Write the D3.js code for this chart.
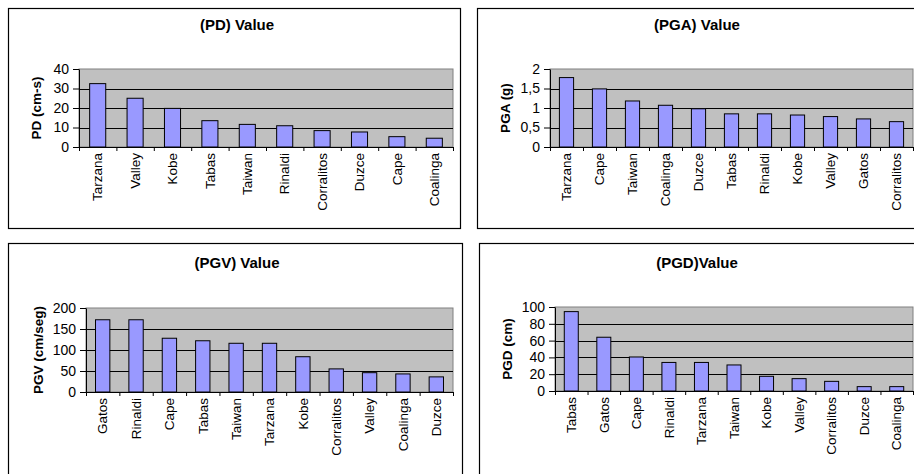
<!DOCTYPE html>
<html>
<head>
<meta charset="utf-8">
<script src="https://cdn.jsdelivr.net/npm/d3@7"></script>
<style>
  body { margin: 0; background: #fff; }
  text { font-family: "Liberation Sans", Arial, sans-serif; fill: #000; }
</style>
</head>
<body>
<script>
// --- data ---
var pdCategories = ['Tarzana', 'Valley', 'Kobe', 'Tabas', 'Taiwan', 'Rinaldi', 'Corralitos', 'Duzce', 'Cape', 'Coalinga'];
var pdValues = [32.5, 25, 19.8, 13.5, 11.6, 10.9, 8.4, 7.7, 5.3, 4.5];
var pdTicks = [0, 10, 20, 30, 40];

var pgaCategories = ['Tarzana', 'Cape', 'Taiwan', 'Coalinga', 'Duzce', 'Tabas', 'Rinaldi', 'Kobe', 'Valley', 'Gatos', 'Corralitos'];
var pgaValues = [1.78, 1.49, 1.18, 1.07, 0.98, 0.85, 0.85, 0.82, 0.78, 0.72, 0.65];
var pgaTicks = [0, 0.5, 1, 1.5, 2];

var pgvCategories = ['Gatos', 'Rinaldi', 'Cape', 'Tabas', 'Taiwan', 'Tarzana', 'Kobe', 'Corralitos', 'Valley', 'Coalinga', 'Duzce'];
var pgvValues = [172, 172, 128, 122, 116, 116, 84, 55, 46, 43, 36];
var pgvTicks = [0, 50, 100, 150, 200];

var pgdCategories = ['Tabas', 'Gatos', 'Cape', 'Rinaldi', 'Tarzana', 'Taiwan', 'Kobe', 'Valley', 'Corralitos', 'Duzce', 'Coalinga'];
var pgdValues = [94.5, 64, 40.5, 34, 34, 31, 17.5, 14.7, 11.5, 5.2, 5.2];
var pgdTicks = [0, 20, 40, 60, 80, 100];

// decimal comma like the original sheet
var commaFormat = function(d) { return String(d).replace('.', ','); };

var svg = d3.select('body').append('svg')
  .attr('width', 914)
  .attr('height', 474);

function drawPanel(cfg) {
  var g = svg.append('g');
  var plot = cfg.plot;

  // outer chart frame
  g.append('rect')
    .attr('x', cfg.frame[0] + 0.5).attr('y', cfg.frame[1] + 0.5)
    .attr('width', cfg.frame[2]).attr('height', cfg.frame[3])
    .attr('fill', '#fff')
    .attr('stroke', '#000')
    .attr('stroke-width', 1.2);

  var x = d3.scaleBand()
    .domain(cfg.categories)
    .range([plot.left, plot.right])
    .paddingInner(0.57)
    .paddingOuter(0.285);

  var y = d3.scaleLinear()
    .domain([0, d3.max(cfg.ticks)])
    .range([plot.bottom, plot.top]);

  // grey plot area
  g.append('rect')
    .attr('x', plot.left).attr('y', plot.top)
    .attr('width', plot.right - plot.left).attr('height', plot.bottom - plot.top)
    .attr('fill', '#c0c0c0')
    .attr('stroke', '#808080')
    .attr('stroke-width', 1);

  // gridlines
  g.append('g')
    .selectAll('line')
    .data(cfg.ticks.slice(1, -1))
    .join('line')
    .attr('x1', plot.left).attr('x2', plot.right)
    .attr('y1', function(d) { return Math.round(y(d)) + 0.5; })
    .attr('y2', function(d) { return Math.round(y(d)) + 0.5; })
    .attr('stroke', '#000')
    .attr('stroke-width', 1);

  // bars
  g.append('g')
    .selectAll('rect')
    .data(cfg.values)
    .join('rect')
    .attr('x', function(d, i) { return x(cfg.categories[i]); })
    .attr('y', function(d) { return y(d); })
    .attr('width', x.bandwidth())
    .attr('height', function(d) { return y(0) - y(d); })
    .attr('fill', '#9999ff')
    .attr('stroke', '#000')
    .attr('stroke-width', 1);

  // y axis
  var yAxis = d3.axisLeft(y)
    .tickValues(cfg.ticks)
    .tickFormat(cfg.format || function(d) { return d; })
    .tickSizeInner(6)
    .tickSizeOuter(0)
    .tickPadding(4);

  var ya = g.append('g')
    .attr('transform', 'translate(' + plot.left + ',0)')
    .call(yAxis);
  ya.select('.domain').attr('stroke', '#000');
  ya.selectAll('text')
    .style('font-size', '14px')
    .attr('fill', '#000');

  // category boundary ticks on x axis
  var xb = d3.scaleLinear()
    .domain([0, cfg.categories.length])
    .range([plot.left, plot.right]);

  var xAxis = d3.axisBottom(xb)
    .tickValues(d3.range(cfg.categories.length + 1))
    .tickFormat('')
    .tickSizeInner(4)
    .tickSizeOuter(0);

  g.append('g')
    .attr('transform', 'translate(0,' + plot.bottom + ')')
    .call(xAxis)
    .select('.domain').attr('stroke', '#000');

  // category labels
  g.append('g')
    .selectAll('text')
    .data(cfg.categories)
    .join('text')
    .attr('transform', function(d) {
      return 'translate(' + (x(d) + x.bandwidth() / 2) + ',' + (plot.bottom + 6) + ') rotate(-90)';
    })
    .attr('dy', '0.35em')
    .attr('text-anchor', 'end')
    .style('font-size', '13.5px')
    .text(function(d) { return d; });

  // chart title
  g.append('text')
    .attr('x', cfg.titleX)
    .attr('y', cfg.titleY)
    .attr('text-anchor', 'middle')
    .style('font-size', '15px')
    .style('font-weight', 'bold')
    .text(cfg.title);

  // y axis title
  g.append('text')
    .attr('transform', 'translate(' + cfg.yLabelX + ',' + ((plot.top + plot.bottom) / 2) + ') rotate(-90)')
    .attr('dy', '0.35em')
    .attr('text-anchor', 'middle')
    .style('font-size', '13.5px')
    .style('font-weight', 'bold')
    .text(cfg.yLabel);
}

drawPanel({
  frame: [8, 8, 452, 220],
  plot: {left: 79, right: 453, top: 69, bottom: 147},
  categories: pdCategories, values: pdValues, ticks: pdTicks,
  title: '(PD) Value', titleX: 237, titleY: 30,
  yLabel: 'PD (cm-s)', yLabelX: 36
});

drawPanel({
  frame: [477, 8, 460, 220],
  plot: {left: 550, right: 913, top: 69, bottom: 147},
  categories: pgaCategories, values: pgaValues, ticks: pgaTicks, format: commaFormat,
  title: '(PGA) Value', titleX: 697, titleY: 30,
  yLabel: 'PGA (g)', yLabelX: 505
});

drawPanel({
  frame: [8, 243, 454, 260],
  plot: {left: 86, right: 453, top: 308, bottom: 392},
  categories: pgvCategories, values: pgvValues, ticks: pgvTicks,
  title: '(PGV) Value', titleX: 237, titleY: 268,
  yLabel: 'PGV (cm/seg)', yLabelX: 38
});

drawPanel({
  frame: [479, 243, 460, 260],
  plot: {left: 555, right: 913, top: 307, bottom: 391},
  categories: pgdCategories, values: pgdValues, ticks: pgdTicks,
  title: '(PGD)Value', titleX: 697, titleY: 268,
  yLabel: 'PGD (cm)', yLabelX: 507
});
</script>
</body>
</html>
